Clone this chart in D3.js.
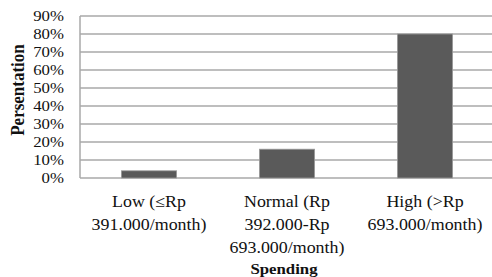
<!DOCTYPE html>
<html>
<head>
<meta charset="utf-8">
<script src="https://cdn.jsdelivr.net/npm/d3@7"></script>
<style>
  body { margin: 0; background: #fff; }
  text { font-family: "Liberation Serif", "Times New Roman", serif; fill: #111; }
</style>
</head>
<body>
<svg id="chart" width="492" height="277"></svg>
<script>
// spending groups and share of respondents (%)
var categories = [
    ["Low (\u2264Rp", "391.000/month)"],
    ["Normal (Rp", "392.000-Rp", "693.000/month)"],
    ["High (>Rp", "693.000/month)"]
];
var values = [4, 16, 80];
var yTicks = [0, 10, 20, 30, 40, 50, 60, 70, 80, 90];

var svg = d3.select("#chart");
var plotLeft = 80, plotRight = 494, plotTop = 16, plotBottom = 178;
var sx = 1.12; // the reference text is a little stretched sideways

var x = d3.scaleBand()
    .domain(d3.range(categories.length))
    .range([plotLeft, plotRight])
    .paddingInner(0.6)
    .paddingOuter(0.3);

var y = d3.scaleLinear().domain([0, 90]).range([plotBottom, plotTop]);

// gridlines
svg.append("g")
    .selectAll("line")
    .data(yTicks)
    .join("line")
    .attr("x1", plotLeft).attr("x2", plotRight)
    .attr("y1", d => y(d)).attr("y2", d => y(d))
    .attr("stroke", "#a8a8a8")
    .attr("stroke-width", 1.5);

// y axis line
svg.append("line")
    .attr("x1", plotLeft).attr("x2", plotLeft)
    .attr("y1", plotTop).attr("y2", plotBottom)
    .attr("stroke", "#a8a8a8")
    .attr("stroke-width", 1.5);

// bars
svg.append("g")
    .selectAll("rect")
    .data(values)
    .join("rect")
    .attr("x", (d, i) => x(i))
    .attr("y", d => y(d))
    .attr("width", x.bandwidth())
    .attr("height", d => y(0) - y(d))
    .attr("fill", "#5a5a5a")
    .attr("stroke", "#9a9a9a")
    .attr("stroke-width", 0.8);

// y tick labels
svg.append("g")
    .selectAll("text")
    .data(yTicks)
    .join("text")
    .attr("transform", d => "translate(64," + y(d) + ") scale(" + sx + ",1)")
    .attr("dy", "0.35em")
    .attr("text-anchor", "end")
    .style("font-size", "15px")
    .text(d => d + "%");

// category labels
var cat = svg.append("g")
    .selectAll("text")
    .data(categories)
    .join("text")
    .attr("text-anchor", "middle")
    .attr("transform", (d, i) => "translate(" + (x(i) + x.bandwidth() / 2) + ",207) scale(" + sx + ",1)")
    .style("font-size", "16px");

cat.selectAll("tspan")
    .data(d => d)
    .join("tspan")
    .attr("x", 0)
    .attr("y", (d, i) => i * 23)
    .text(d => d);

// axis titles
svg.append("text")
    .attr("transform", "translate(284,274) scale(" + sx + ",1)")
    .attr("text-anchor", "middle")
    .style("font-size", "15px")
    .style("font-weight", "bold")
    .text("Spending");

svg.append("text")
    .attr("transform", "translate(24,90) rotate(-90) scale(1,1.1)")
    .attr("text-anchor", "middle")
    .style("font-size", "17px")
    .style("font-weight", "bold")
    .text("Persentation");
</script>
</body>
</html>
